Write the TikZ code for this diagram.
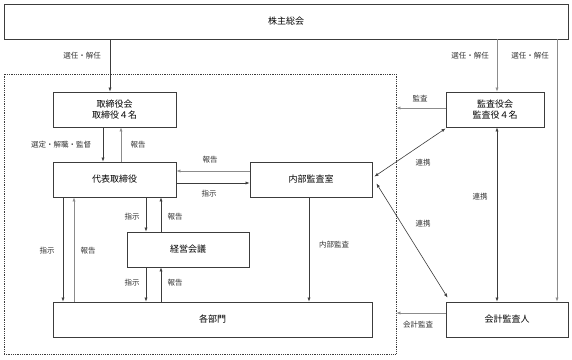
\documentclass[tikz,border=0pt]{standalone}
\usepackage{fontspec}
\setmainfont{Noto Sans CJK JP}
\usetikzlibrary{arrows.meta,positioning,calc}
\definecolor{linec}{RGB}{60,60,60}
\definecolor{lightc}{RGB}{140,140,140}
\begin{document}
\begin{tikzpicture}[x=1pt,y=-1pt,
  box/.style={draw=linec,line width=0.9pt,minimum height=35pt,inner sep=1pt,
              align=center,font=\fontsize{9}{11}\selectfont},
  arr/.style={-{Latex[length=4pt,width=3.2pt]},linec,line width=0.6pt},
  arrl/.style={arr,lightc},
  both/.style={{Latex[length=4pt,width=3.2pt]}-{Latex[length=4pt,width=3.2pt]},
               linec,line width=0.6pt},
  lab/.style={font=\fontsize{7.5}{9}\selectfont,text=black!80,inner sep=1pt}]
\useasboundingbox (0,0) rectangle (572,359);

% frame of the company
\node[draw=linec,densely dotted,line width=0.8pt,minimum width=392pt,
      minimum height=280pt] (frame) at (200,214) {};

% boxes
\node[box,minimum width=564pt] (gm)    at (286,21.5)  {株主総会};
\node[box,minimum width=123pt] (board) at (114.5,109.5) {取締役会\\取締役４名};
\node[box,minimum width=123pt] (rep)   at (114.5,179.5) {代表取締役};
\node[box,minimum width=122pt] (inner) at (311,179.5) {内部監査室};
\node[box,minimum width=122pt] (mgmt)  at (188,249.5) {経営会議};
\node[box,minimum width=319pt] (dept)  at (212.5,319.5) {各部門};
\node[box,minimum width=98pt]  (kan)   at (495,109.5) {監査役会\\監査役４名};
\node[box,minimum width=122pt] (acct)  at (507,319.5) {会計監査人};

% connectors inside
\draw[arr]  (gm.south -| 110,0) -- (board.north -| 110,0);
\draw[arr]  (board.south -| 103,0) -- (rep.north -| 103,0);
\draw[arrl] (rep.north -| 121,0) -- (board.south -| 121,0);
\draw[arrl] (inner.west |- 0,171) -- (rep.east |- 0,171);
\draw[arr]  (rep.east |- 0,183) -- (inner.west |- 0,183);
\draw[arr]  (rep.south -| 146,0) -- (mgmt.north -| 146,0);
\draw[arr]  (mgmt.north -| 161,0) -- (rep.south -| 161,0);
\draw[arr]  (mgmt.south -| 146,0) -- (dept.north -| 146,0);
\draw[arr]  (dept.north -| 161,0) -- (mgmt.south -| 161,0);
\draw[arr]  (rep.south -| 63,0) -- (dept.north -| 63,0);
\draw[arrl] (dept.north -| 74,0) -- (rep.south -| 74,0);
\draw[arr]  (inner.south -| 309,0) -- (dept.north -| 309,0);

% connectors outside
\draw[arrl] (gm.south -| 497,0) -- (kan.north -| 497,0);
\draw[arrl] (gm.south -| 557,0) -- (acct.north -| 557,0);
\draw[arrl] (kan.west |- 0,108) -- (frame.east |- 0,108);
\draw[arrl] (acct.west |- 0,313) -- (frame.east |- 0,313);
\draw[both] ([yshift=-1pt]kan.south west) -- ([xshift=2pt,yshift=3pt]inner.east);
\draw[both] (kan.south -| 497,0) -- (acct.north -| 497,0);
\draw[both] ([xshift=4pt,yshift=-4pt]inner.east) -- ([xshift=2pt,yshift=4pt]acct.north west);

% labels: {name, x, y, text}
\foreach \n/\x/\y/\t in {
   a/82/56/{選任・解任}, b/61/145/{選定・解職・監督}, c/138/145/{報告},
   d/210/160/{報告}, e/209/194/{指示},
   f/132/217/{指示}, g/175/217/{報告},
   h/132/283/{指示}, i/175/283/{報告},
   j/47/251/{指示}, k/88/251/{報告},
   l/334/245/{内部監査},
   m/470/56/{選任・解任}, n/530/56/{選任・解任},
   o/420/99/{監査}, p/423/163/{連携}, q/480/197/{連携},
   r/423/224/{連携}, s/418/325/{会計監査}}{
  \node[lab] (lab\n) at (\x,\y) {\t};
}

\end{tikzpicture}
\end{document}
